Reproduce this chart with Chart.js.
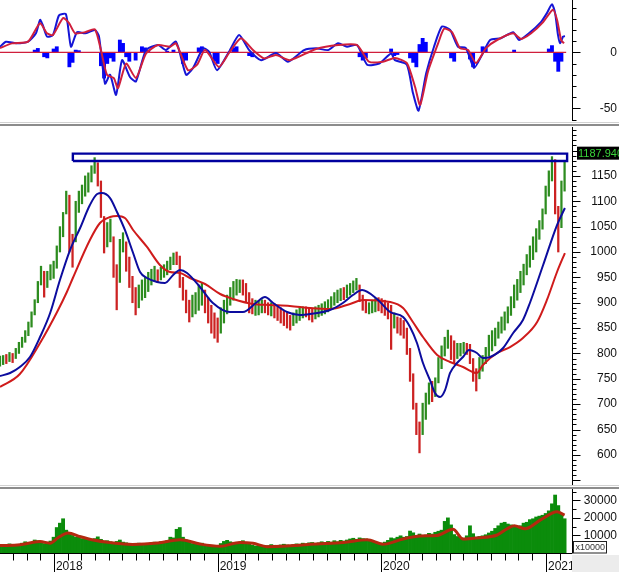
<!DOCTYPE html>
<html><head><meta charset="utf-8">
<script src="https://cdn.jsdelivr.net/npm/chart.js@4.4.1/dist/chart.umd.min.js"></script>
<style>
html,body{margin:0;padding:0;background:#fff;}
body{width:619px;height:572px;overflow:hidden;position:relative;}
.box{position:absolute;left:0;width:619px;}
.sep{position:absolute;left:0;width:619px;}
</style></head><body>
<div class="box" style="top:0;height:121px"><canvas id="macd"></canvas></div>
<div class="sep" style="top:122px;height:1px;background:#d2d2d2"></div>
<div class="sep" style="top:124px;height:2px;background:#8c8c8c"></div>
<div class="box" style="top:127px;height:358px"><canvas id="price"></canvas></div>
<div class="sep" style="top:485px;height:1px;background:#d2d2d2"></div>
<div class="sep" style="top:487px;height:2px;background:#8c8c8c"></div>
<div class="box" style="top:489px;height:83px"><canvas id="vol"></canvas></div>
<script>
// ---------------- DATA (weekly, week 0 = early Sep 2017) ----------------
const priceLow = [775,778,780,784,782,790,800,812,822,835,852,876,900,935,911,930,945,948,968,1000,
1030,1075,1000,970,1020,1078,1095,1110,1118,1138,1155,1130,1068,998,1010,1020,950,886,940,1000,
962,930,900,876,890,905,910,922,935,942,940,945,950,955,965,975,975,930,905,880,
862,872,878,885,895,880,860,840,830,822,840,860,878,895,905,915,920,915,900,880,
878,875,876,880,880,876,874,870,865,860,855,850,846,855,860,865,870,872,866,862,
868,872,875,878,882,888,895,900,904,906,910,915,920,925,902,885,880,878,880,882,
884,880,875,868,808,850,840,836,830,798,745,690,640,604,640,670,700,705,715,742,
770,795,810,788,780,790,795,800,798,780,745,726,750,765,780,795,805,815,830,840,
846,860,875,890,905,920,935,955,970,985,1000,1025,1045,1075,1110,1140,1075,1000,1048,1120];
const priceHigh = [795,796,798,802,800,810,822,832,845,862,882,906,942,972,962,962,975,982,1012,1050,
1078,1120,1112,1035,1100,1120,1132,1150,1156,1170,1186,1176,1140,1070,1058,1065,1030,975,1025,1038,
1020,990,952,930,935,945,950,960,966,972,965,970,975,982,990,998,1000,992,950,925,
905,915,920,935,940,925,910,895,880,870,890,905,915,930,942,946,945,945,938,920,
908,905,904,906,905,900,900,898,895,890,885,880,875,880,886,890,892,892,890,888,
892,895,898,902,906,912,920,925,928,930,935,938,943,948,935,915,905,900,905,908,
910,908,905,900,895,880,872,870,865,850,810,760,702,665,702,722,742,745,752,792,
815,832,846,835,825,820,820,822,820,818,790,770,792,796,812,836,845,850,862,872,
882,892,912,935,946,962,976,995,1012,1030,1046,1062,1085,1130,1160,1188,1182,1090,1140,1180];
const priceUp = [1,1,0,1,0,1,1,1,1,1,1,1,1,1,0,1,1,1,1,1,
1,1,0,0,1,1,1,1,1,1,1,0,0,0,1,1,0,0,1,1,
0,0,0,0,1,1,1,1,1,1,0,1,1,1,1,1,0,0,0,0,
0,1,1,1,1,0,0,0,0,0,1,1,1,1,1,1,1,0,0,0,
0,1,1,1,0,0,1,0,0,0,0,0,0,1,1,1,1,0,0,0,
1,1,1,1,1,1,1,1,1,0,1,1,1,1,0,0,0,1,1,1,
0,0,0,0,0,1,0,0,0,0,0,0,0,0,1,1,1,0,1,1,
1,1,1,0,0,1,1,1,0,0,0,0,1,1,1,1,1,1,1,1,
1,1,1,1,1,1,1,1,1,1,1,1,1,1,1,1,0,0,1,1];
// moving averages: [week, value]
const maFast = [[0,755.6],[3.2,761.5],[6.3,773.3],[9.5,793],[12.7,832.4],[15.9,879.8],[19,944.8],[22.2,1003.9],
[25.4,1047.3],[28.5,1092.6],[30.8,1114.3],[32.3,1116.3],[34.9,1106.4],[37.1,1078.8],[39.6,1043.4],[42.2,998],
[44.4,960.6],[46.6,948.7],[49.8,940.9],[52.3,938.9],[54.9,954.7],[57.1,964.5],[59.3,958.6],[63.4,931],
[67.5,899.5],[72.9,881.7],[77,881.7],[81.5,901.4],[84,911.3],[86.6,899.5],[91,881.7],[95.1,875.8],
[98.3,877.8],[104.6,885.7],[108.7,899.5],[111.9,915.2],[114.8,925.1],[119.5,907.4],[123.7,881.7],[127.8,871.9],
[130,852.2],[132.2,820.6],[134.1,781.2],[136.3,747.7],[137.9,722.1],[139.5,714.2],[141.1,727.9],[142.7,761.5],
[144.9,781.2],[146.8,793],[148.7,806.8],[151.2,800.9],[153.1,791.1],[155.4,793],[159.5,810.8],[162.7,840.3],
[165.8,866],[168,899.5],[172.2,974.4],[176.6,1053.2],[179.1,1086.7]];
const maSlow = [[0,733.9],[6.3,759.5],[12.7,820.6],[18.1,881.7],[21.2,921.2],[23.1,948.7],[28.5,1023.7],
[31.7,1057.2],[34.9,1069],[37.1,1071],[39.6,1067],[42.2,1043.4],[46.6,1009.9],[50.7,974.4],[53.9,960.6],
[57.1,958.6],[60.2,948.7],[65,936.9],[69.8,917.2],[73.9,907.4],[80.2,897.5],[85.6,895.5],[91.9,893.6],
[98.3,889.6],[104.6,887.6],[111,897.5],[115.1,905.4],[123.7,901.4],[127.8,889.6],[130.9,862],[134.1,832.4],
[138.6,797],[142.7,783.2],[146.8,773.3],[151.2,761.5],[153.1,777.3],[157.6,800.9],[161.7,812.7],[165.8,830.5],
[170.3,862],[173.4,905.4],[176.6,960.6],[179.1,998]];
const boxWeeks = [23.1, 179.8];
const boxPrices = [1179.4, 1194];
const lastPrice = 1187.94;
// MACD panel: [week, value]
const macdLine = [[0,5],[1.9,9.5],[5.1,8],[8.9,9.5],[11.4,17],[12.7,29],[13.6,24],[14.9,14],[16.8,15.5],[18.7,33],
[20.9,34],[22.5,5],[24.4,18],[27,17],[30.1,20],[31.4,14],[33.3,-28],[34.9,-20],[36.8,-38],[38.7,-7],[41.2,-22],
[43.1,-26],[46.3,2],[50.1,6.5],[52.6,2],[55.8,9.5],[59,-20],[61.2,-14],[64.4,3.6],[66.3,0.5],[68.8,-16],[72.6,0.5],
[75.8,15.5],[79,2],[82.8,-7],[87.5,-0.6],[91.3,-8.4],[96.4,2],[100.2,3.6],[104,2],[107.2,8],[110,5],[113.2,6.5],
[116.4,-11],[120.2,-10],[124,-1],[125.2,-7],[129,-11],[130.9,-36],[132.7,-52],[135.1,-19],[137.6,5],[140.1,23],
[142.7,20],[145.2,5],[147.7,3.8],[150.3,-14],[152.8,-2.4],[155.4,11],[158.8,12.5],[162.7,18],[164.6,11],[167.7,17],
[171.5,27],[173.4,35],[175,43],[176,35],[176.9,15.5],[177.6,8],[178.5,14],[179.1,14.5]];
const signalLine = [[0,3.8],[3.8,8],[8.9,9.5],[12.7,26],[14.9,17],[16.8,15.5],[20,30.6],[21.9,26],[23.8,17],[27,18],
[30.1,20.5],[32,2],[33.9,-20],[36.1,-23],[37.4,-32],[40,-10],[43.1,-23],[46.3,-1],[50.1,6.5],[53.9,5],[55.8,8],
[59.6,-16],[62.5,-11],[65,2],[69.4,-13],[72.6,-0.6],[76.4,12.5],[80.2,2],[83.7,-5.4],[87.5,-2.4],[91.9,-7],
[100.2,3],[107.2,6.5],[113.2,6.5],[117,-8.4],[121.4,-8.4],[125.2,-5],[129,-9.6],[131.6,-31],[133.2,-47],
[135.7,-17],[138.9,8],[140.8,21],[143.3,18],[145.8,3.8],[148.4,2],[150.9,-9.6],[154.1,3.8],[157.6,11],
[162.7,17],[165.2,12],[168.4,17],[172.2,27],[175.3,38],[176.6,29],[177.9,11],[178.8,8]];
const macdHist = [[11,2],[12,3.5],[14,-4],[15,-5],[17,3],[18,5],[22,-13],[23,-9],[24,2],[25,1.5],[32,-12],[33,-23],
[34,-10],[35,-5],[36,-8],[38,11],[39,8],[40,-4],[41,-8],[43,-7],[45,5],[46,4],[47,2],[53,1],[55,2],[58,-10],[59,-7],
[63,4],[64,5],[68,-8],[69,-10],[74,4],[75,5],[79,-3],[80,-4],[114,-4],[115,-7],[116,-5],[124,3],[125,-3],[126,-2],
[130,-5],[131,-9],[132,-13],[133,7],[134,12.5],[135,9],[143,-5],[144,-8],[149,-6],[150,-13],[153,5],[154,4],
[163,2],[174,3],[175,6],[176,-8],[177,-17],[178,-8]];
const zeroLine = [[0,0],[179.5,0]];
// volume (x10000), weekly
const volume = [4200,3800,4500,5200,4600,4100,4800,5600,6400,5600,
6000,7400,7000,6200,5400,5800,6800,9000,14500,17000,
19500,13000,11500,10000,9000,9800,8200,8000,7400,7200,
8200,9200,7800,6800,7000,6400,6000,6600,7400,6200,
5800,5400,5000,5200,5600,4800,5000,5400,5800,6200,
6000,6400,5800,7000,9000,8600,13500,14500,9000,7400,
6200,5400,5000,5200,5600,4800,4400,4000,3800,4200,
5400,6600,7200,6400,5800,5200,6200,7000,5600,5000,
4400,4000,4200,3800,3600,4200,4800,4400,4200,4600,
5000,4600,4400,4800,5200,5000,5600,5200,5800,6000,
5400,5800,6400,6000,6600,6200,7000,6400,7200,6800,
7400,8000,8400,7800,8600,8200,8000,7400,6200,5800,
5200,5600,6200,7200,8600,8200,9000,9800,9000,9400,
12500,11500,9800,10800,9400,10200,11200,10800,11800,12400,
13000,18000,20000,16000,10500,9400,8800,8400,9800,15500,
11000,9000,9400,9800,10400,11400,12400,14000,15500,17000,
17500,16500,16000,15500,15000,15500,17000,17500,19000,19500,
20500,21000,21500,22500,24000,28000,33000,27000,22000,19500];
const volumeMA = [[0,4200],[6.3,4700],[12.7,6500],[15.9,5600],[18.4,8700],[21.6,11400],[25.4,9300],[29.5,7400],
[35,5900],[42,4900],[50,5700],[57.1,7600],[63.4,5100],[69.8,3800],[76.1,6000],[80.2,5500],[84.7,3600],[95,4400],
[98.3,5000],[108.8,6000],[116.4,7600],[121.4,5000],[127.8,8000],[133.2,9700],[138.6,10000],[143.6,13500],
[146.8,8000],[151.2,8600],[157.6,10250],[160.5,13500],[163,15500],[166.5,13800],[171.5,19000],[176.6,23500],[179,21500]];
// axis labels
const yearTicks = [17.1, 69.0, 120.8, 173.1];
const yearLabels = ['2018', '2019', '2020', '2021'];
const priceTicks = [600,650,700,750,800,850,900,950,1000,1050,1100,1150];
const macdTicks = [-50, 0];
const volTicks = [10000, 20000, 30000];

// ---------------- RENDERING ----------------
const FONT = '"Liberation Sans", Arial, Helvetica, sans-serif';
Chart.defaults.font.family = FONT;
Chart.defaults.font.size = 12;
Chart.defaults.color = '#111';
Chart.defaults.animation = false;
Chart.defaults.plugins.legend.display = false;
Chart.defaults.plugins.tooltip.enabled = false;
const X_MIN = 0, X_MAX = 181.35, AXIS_X = 572;
const pts = a => a.map(([x, y]) => ({x, y}));
function measure(t, px) { const c = document.createElement('canvas').getContext('2d'); c.font = px + 'px ' + FONT; return c.measureText(t).width; }

function rightAxis(min, max, labels, rightEdge) {
  const widest = Math.max(...labels.map(v => measure(String(v), 12)));
  return {
    type: 'linear', position: 'right', min, max,
    grid: {display: false, drawTicks: false}, border: {display: false},
    afterBuildTicks: s => { s.ticks = labels.map(v => ({value: v})); },
    ticks: {autoSkip: false, crossAlign: 'far', padding: rightEdge - AXIS_X - widest, color: '#111', font: {size: 12}, callback: v => String(v)},
    afterFit: s => { s.width = 45; s.paddingTop = 0; s.paddingBottom = 0; }
  };
}
const hiddenX = {type: 'linear', min: X_MIN, max: X_MAX, display: false, offset: false};

function monthTicks() {
  const out = [];
  for (let i = 0; i < yearTicks.length; i++) {
    out.push({v: yearTicks[i], year: true});
    const step = (i < yearTicks.length - 1 ? yearTicks[i + 1] - yearTicks[i] : yearTicks[i] - yearTicks[i - 1]) / 12;
    for (let k = 1; k < 12; k++) { const v = yearTicks[i] + k * step; if (v <= X_MAX) out.push({v, year: false}); }
    if (i === 0) { for (let k = 1; yearTicks[0] - k * step >= 0; k++) out.push({v: yearTicks[0] - k * step, year: false}); }
  }
  return out;
}

const decor = {
  id: 'decor',
  afterDraw(chart, args, o) {
    const ctx = chart.ctx, ca = chart.chartArea, ys = chart.scales.y;
    ctx.save();
    ctx.strokeStyle = '#000'; ctx.lineWidth = 1;
    const ax = Math.round(ca.right) + 0.5;
    ctx.beginPath();
    ctx.moveTo(ax, ca.top); ctx.lineTo(ax, ca.bottom);
    for (let v = o.from; v <= ys.max + 1e-9; v += o.minor) {
      const py = Math.round(ys.getPixelForValue(v)) + 0.5;
      if (py < ca.top || py > ca.bottom) continue;
      const major = Math.abs(v / o.major - Math.round(v / o.major)) < 1e-6;
      ctx.moveTo(ax, py); ctx.lineTo(ax + (major ? 8 : 4), py);
    }
    ctx.stroke();
    if (o.xAxis) {
      const xs = chart.scales.x;
      const by = Math.round(ca.bottom) + 0.5;
      ctx.beginPath();
      ctx.moveTo(ca.left, by); ctx.lineTo(ax, by);
      for (const m of monthTicks()) {
        const px = Math.round(xs.getPixelForValue(m.v)) + 0.5;
        if (px < ca.left || px > ca.right) continue;
        ctx.moveTo(px, by); ctx.lineTo(px, m.year ? chart.height : by + 7);
      }
      ctx.stroke();
      ctx.fillStyle = '#ececec';
      ctx.fillRect(572, ca.bottom + 2, chart.width - 572, chart.height - ca.bottom - 2);
      // unit box
      ctx.fillStyle = '#fff';
      ctx.fillRect(573.5, ca.bottom - 11.5, 33, 11.5);
      ctx.strokeStyle = '#222';
      ctx.strokeRect(573.5, ca.bottom - 11.5, 33, 11.5);
      ctx.fillStyle = '#333'; ctx.font = '9px ' + FONT; ctx.textBaseline = 'middle'; ctx.textAlign = 'left';
      ctx.fillText('x10000', 575.5, ca.bottom - 5.5);
    }
    if (o.tag) {
      const yc = ys.getPixelForValue(lastPrice) - 3.5;
      ctx.fillStyle = '#000';
      ctx.fillRect(577, yc - 6.5, chart.width - 577, 13);
      ctx.fillStyle = '#3ad43a'; ctx.font = '11px ' + FONT; ctx.textBaseline = 'middle'; ctx.textAlign = 'left';
      ctx.fillText(lastPrice.toFixed(3), 578, yc + 0.5);
    }
    ctx.restore();
  }
};

const baseOpts = (scales, decorOpts) => ({
  responsive: true, maintainAspectRatio: false, animation: false,
  layout: {padding: {left: 0, right: 2, top: 0, bottom: 0}},
  scales,
  plugins: {legend: {display: false}, tooltip: {enabled: false}, decor: decorOpts}
});

// MACD
new Chart(document.getElementById('macd'), {
  type: 'bar',
  data: {datasets: [
    {type: 'line', data: pts(signalLine), borderColor: '#d01f3c', borderWidth: 2, pointRadius: 0, tension: 0.2, order: 0},
    {type: 'line', data: pts(macdLine), borderColor: '#1515d6', borderWidth: 2, pointRadius: 0, tension: 0.2, order: 1},
    {type: 'line', data: pts(zeroLine), borderColor: '#d01f3c', borderWidth: 1.3, pointRadius: 0, order: 2},
    {type: 'bar', data: pts(macdHist), backgroundColor: '#0000ff', barThickness: 3.2, order: 3}
  ]},
  options: baseOpts({x: hiddenX, y: rightAxis(-61.3, 46.7, macdTicks, 617)}, {from: -60, minor: 10, major: 50}),
  plugins: [decor]
});

// PRICE
const boxPath = [{x: boxWeeks[0], y: boxPrices[0]}, {x: boxWeeks[1], y: boxPrices[0]}, {x: boxWeeks[1], y: boxPrices[1]},
                 {x: boxWeeks[0], y: boxPrices[1]}, {x: boxWeeks[0], y: boxPrices[0]}];
new Chart(document.getElementById('price'), {
  type: 'bar',
  data: {datasets: [
    {type: 'line', data: boxPath, borderColor: '#00009e', borderWidth: 2.4, pointRadius: 0, tension: 0, borderJoinStyle: 'miter', order: 0},
    {type: 'line', data: pts(maFast), borderColor: '#0c0c9e', borderWidth: 2, pointRadius: 0, cubicInterpolationMode: 'monotone', order: 1},
    {type: 'line', data: pts(maSlow), borderColor: '#cf1b1b', borderWidth: 2, pointRadius: 0, cubicInterpolationMode: 'monotone', order: 2},
    {type: 'bar', data: priceLow.map((lo, i) => ({x: i, y: [lo, priceHigh[i]]})),
     backgroundColor: priceUp.map(u => u ? '#2d8c1f' : '#cc2222'), barThickness: 1.6, order: 3}
  ]},
  options: baseOpts({x: hiddenX, y: rightAxis(540.7, 1246.4, priceTicks, 617)}, {from: 550, minor: 10, major: 50, tag: true}),
  plugins: [decor]
});

// VOLUME
new Chart(document.getElementById('vol'), {
  type: 'bar',
  data: {datasets: [
    {type: 'line', data: pts(volumeMA), borderColor: '#b4290f', borderWidth: 3, pointRadius: 0, cubicInterpolationMode: 'monotone', order: 0},
    {type: 'bar', data: volume.map((v, i) => ({x: i, y: v})), backgroundColor: '#0b8c0b', barPercentage: 1, categoryPercentage: 1, order: 1}
  ]},
  options: baseOpts({
    x: {type: 'linear', min: X_MIN, max: X_MAX, offset: false, position: 'bottom',
        grid: {display: false, drawTicks: false}, border: {display: false},
        afterBuildTicks: s => { s.ticks = yearTicks.map(v => ({value: v})); },
        ticks: {autoSkip: false, maxRotation: 0, minRotation: 0, align: 'start', labelOffset: 2, padding: 6, color: '#111', font: {size: 12},
                callback: (v, i) => yearLabels[i]},
        afterFit: s => { s.height = 19; s.paddingLeft = 0; s.paddingRight = 0; }},
    y: rightAxis(0, 36430, volTicks, 613)
  }, {from: 0, minor: 5000, major: 10000, xAxis: true}),
  plugins: [decor]
});
</script>
</body></html>
